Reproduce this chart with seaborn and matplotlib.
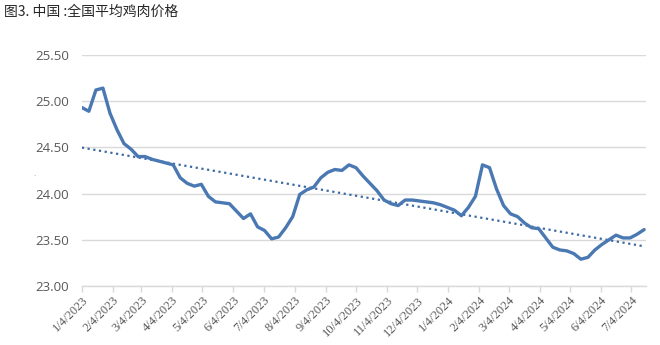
import numpy as np
import pandas as pd
import matplotlib
matplotlib.use("Agg")
import matplotlib.pyplot as plt
import seaborn as sns

# Weekly national average chicken price
start_date = "2023-01-04"
prices = [
    24.93, 24.89, 25.12, 25.14, 24.87, 24.69, 24.54, 24.48, 24.40, 24.40,
    24.37, 24.35, 24.33, 24.31, 24.17, 24.11, 24.08, 24.10, 23.97, 23.91,
    23.90, 23.89, 23.81, 23.73, 23.78, 23.64, 23.60, 23.51, 23.53, 23.63,
    23.75, 23.99, 24.04, 24.07, 24.17, 24.23, 24.26, 24.25, 24.31, 24.28,
    24.19, 24.11, 24.03, 23.93, 23.89, 23.87, 23.93, 23.93, 23.92, 23.91,
    23.90, 23.88, 23.85, 23.82, 23.76, 23.85, 23.97, 24.31, 24.28, 24.05,
    23.87, 23.78, 23.75, 23.68, 23.63, 23.62, 23.52, 23.42, 23.39, 23.38,
    23.35, 23.29, 23.31, 23.39, 23.45, 23.50, 23.55, 23.52, 23.52, 23.56,
    23.61,
]
y_ticks = [23.00, 23.50, 24.00, 24.50, 25.00, 25.50]
title = "图3. 中国 :全国平均鸡肉价格"

dates = pd.date_range(start_date, periods=len(prices), freq="7D")
df = pd.DataFrame({"date": dates, "price": prices})

# Linear trend over the series
idx = np.arange(len(prices))
slope, intercept = np.polyfit(idx, prices, 1)
df["trend"] = intercept + slope * idx

sns.set_theme(style="white")
plt.rcParams["font.family"] = ["Noto Sans CJK SC", "DejaVu Sans"]

fig = plt.figure(figsize=(6.6, 3.45), dpi=100)
ax = fig.add_axes([0.124, 0.171, 0.855, 0.670])

sns.lineplot(data=df, x="date", y="trend", ax=ax, color="#3d6aa3",
             linewidth=1.6, linestyle=(0, (1, 1.6)))
sns.lineplot(data=df, x="date", y="price", ax=ax, color="#4a78b2",
             linewidth=2.4)

ax.set_ylim(y_ticks[0], y_ticks[-1])
ax.set_yticks(y_ticks)
ax.set_yticklabels([f"{v:.2f}" for v in y_ticks])
ax.set_xlim(dates[0], dates[-1] + pd.Timedelta(days=2))

# Month ticks on the 4th of each month
month_ticks = pd.date_range("2023-01-01", dates[-1], freq="MS") + pd.Timedelta(days=3)
ax.set_xticks(month_ticks)
ax.set_xticklabels([f"{d.month}/{d.day}/{d.year}" for d in month_ticks],
                   rotation=45, ha="right", rotation_mode="anchor",
                   fontfamily="Liberation Serif", fontsize=9, color="#595959")

ax.grid(axis="y", color="#d9d9d9", linewidth=1)
ax.set_axisbelow(True)
for side in ["top", "right", "left"]:
    ax.spines[side].set_visible(False)
ax.spines["bottom"].set_color("#d9d9d9")
ax.spines["bottom"].set_linewidth(1)
ax.tick_params(axis="x", which="major", bottom=True, length=4, width=1,
               color="#d9d9d9", pad=2)
ax.tick_params(axis="y", length=0, labelsize=9.5, labelcolor="#595959", pad=9)
for lab in ax.get_yticklabels():
    lab.set_fontfamily("Open Sans")

ax.set_xlabel("")
ax.set_ylabel("")
fig.text(0.05, 0.49, ".", fontsize=6, color="#888888")

fig.text(0.006, 0.965, title, fontsize=10, color="#262626", va="center",
         ha="left")

fig.savefig("out.png", dpi=100, facecolor="white")
